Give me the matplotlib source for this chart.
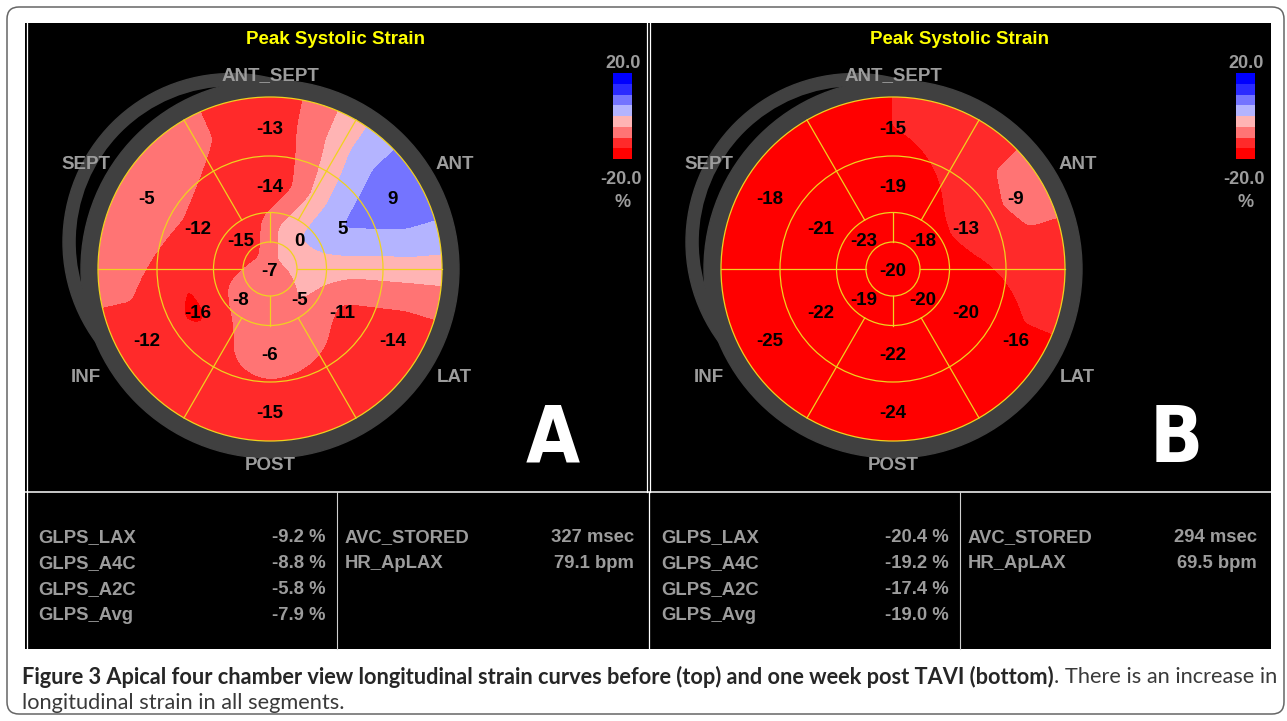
import numpy as np
import matplotlib
matplotlib.use("Agg")
import matplotlib.pyplot as plt
from matplotlib.patches import Circle, FancyBboxPatch
from matplotlib import font_manager as fm

# ---------------- data ----------------
wall_names = ["ANT_SEPT", "ANT", "LAT", "POST", "INF", "SEPT"]
wall_angles = [90, 30, -30, -90, 210, 150]
apical_angles = [45, -45, 225, 135]

# before TAVI (A)
basal_a = [-13, 9, -14, -15, -12, -5]
mid_a = [-14, 5, -11, -6, -16, -12]
apical_a = [0, -5, -8, -15]
apex_a = -7

# one week post TAVI (B)
basal_b = [-15, -9, -16, -24, -25, -18]
mid_b = [-19, -13, -20, -22, -22, -21]
apical_b = [-18, -20, -19, -23]
apex_b = -20

glps_names = ["GLPS_LAX", "GLPS_A4C", "GLPS_A2C", "GLPS_Avg"]
glps_a = [-9.2, -8.8, -5.8, -7.9]
glps_b = [-20.4, -19.2, -17.4, -19.0]
timing_names = ["AVC_STORED", "HR_ApLAX"]
avc = [327, 294]
hr = [79.1, 69.5]

strain_bounds = [-15, -10, -5, 0, 5, 10, 15]
strain_colors = ["#ff0000", "#ff2a2a", "#ff7474", "#ffb4b4",
                 "#b4b4ff", "#7474ff", "#2a2aff", "#0000ff"]
cbar_top, cbar_bottom = "20.0", "-20.0"

title = "Peak Systolic Strain"
panel_letters = ["A", "B"]
cap_bold = ("Figure 3 Apical four chamber view longitudinal strain curves "
            "before (top) and one week post TAVI (bottom)")
cap_reg = ". There is an increase in"
cap_line2 = "longitudinal strain in all segments."

# ---------------- style ----------------
names = {f.name for f in fm.fontManager.ttflist}
LAB = "Liberation Sans" if "Liberation Sans" in names else "DejaVu Sans"
CAP = "Lato" if "Lato" in names else "DejaVu Sans"

# a condensed bold face for the big panel letters, if one is installed
letter_font = None
for f in fm.fontManager.ttflist:
    fn = f.fname.lower()
    if ("narrow" in fn or "condensed" in fn) and f.weight in ("bold", 700) \
            and "oblique" not in fn and "italic" not in fn:
        letter_font = fm.FontProperties(fname=f.fname, size=56)
        break
if letter_font is None:
    letter_font = fm.FontProperties(family=LAB, weight="bold", size=52)

ring_gray = "#404040"
text_gray = "#9c9c9c"
grid_yellow = "#f0d21e"

W, H = 1287, 721
CY = 269
R_OUT, R_MID, R_API, R_APEX = 172, 113, 56.5, 27
R_BASAL_TXT, R_MID_TXT, R_API_TXT = 142, 84, 42
DX = 623
centers = [270, 270 + DX]

fig = plt.figure(figsize=(W / 100, H / 100), dpi=100)
ax = fig.add_axes([0, 0, 1, 1])
ax.set_xlim(0, W)
ax.set_ylim(H, 0)
ax.axis("off")

# frame and black panels
ax.add_patch(FancyBboxPatch((7, 7), 1277, 707, boxstyle="round,pad=0,rounding_size=12",
                            fc="white", ec="#666666", lw=1.1, zorder=0))
ax.add_patch(plt.Rectangle((24.5, 22.7), 1246, 626, fc="black", ec="none", zorder=0.5))
ax.plot([26.8, 26.8], [22.7, 648.5], color="white", lw=0.9, zorder=5)
ax.plot([647.2, 647.2], [22.7, 492], color="white", lw=0.9, zorder=5)
ax.plot([650.3, 650.3], [22.7, 492], color="white", lw=0.9, zorder=5)
ax.plot([24.5, 1270.5], [492.3, 492.3], color="white", lw=1.1, zorder=5)
ax.plot([648.7, 648.7], [492, 648.5], color="white", lw=0.9, zorder=5)
for xl in [337, 337 + DX]:
    ax.plot([xl, xl], [492, 648.5], color="#d0d0d0", lw=0.8, zorder=5)


def ring_profile(vals, angles, theta):
    # periodic interpolation around one ring: mean of linear and monotone cubic
    a = np.mod(angles, 360)
    order = np.argsort(a)
    a = a[order]
    v = np.asarray(vals, float)[order]
    n = len(v)
    step = 360.0 / n
    d = np.roll(v, -1) - v                     # slope after each knot
    dprev = np.roll(d, 1)                      # slope before each knot
    m = np.where(d * dprev > 0, 2 * d * dprev / (d + dprev + 1e-12), 0.0)
    t = np.mod(theta - a[0], 360) / step
    i = np.floor(t).astype(int) % n
    f = t - np.floor(t)
    p0, p1 = v[i], v[(i + 1) % n]
    m0, m1 = m[i], m[(i + 1) % n]
    cub = (p0 * (2 * f ** 3 - 3 * f ** 2 + 1) + m0 * (f ** 3 - 2 * f ** 2 + f)
           + p1 * (-2 * f ** 3 + 3 * f ** 2) + m1 * (f ** 3 - f ** 2))
    lin = p0 + (p1 - p0) * f
    return 0.5 * (cub + lin)


def strain_field(basal, mid, apical, apex, gx, gy):
    th = np.degrees(np.arctan2(gy, gx))
    r = np.hypot(gx, gy)
    vb = ring_profile(basal, wall_angles, th)
    vm = ring_profile(mid, wall_angles, th)
    va = ring_profile(apical, apical_angles, th)
    z = np.where(r <= R_API_TXT, apex + (va - apex) * r / R_API_TXT,
        np.where(r <= R_MID_TXT, va + (vm - va) * (r - R_API_TXT) / (R_MID_TXT - R_API_TXT),
        np.where(r <= R_BASAL_TXT, vm + (vb - vm) * (r - R_MID_TXT) / (R_BASAL_TXT - R_MID_TXT),
                 vb)))
    # soften the kinks of the piecewise interpolation
    k = np.exp(-0.5 * (np.arange(-9, 10) / 3.0) ** 2)
    k /= k.sum()
    zp = np.pad(z, 9, mode="edge")
    zp = np.apply_along_axis(lambda q: np.convolve(q, k, mode="valid"), 0, zp)
    zp = np.apply_along_axis(lambda q: np.convolve(q, k, mode="valid"), 1, zp)
    return zp


def pol(cx, r, ang):
    t = np.radians(ang)
    return cx + r * np.cos(t), CY - r * np.sin(t)


def bullseye(cx, basal, mid, apical, apex, letter):
    # grey LV outline (double wall on the upper left)
    ox, oy = pol(cx, 47, 145)
    ax.add_patch(Circle((ox, oy), 168.5, color=ring_gray, zorder=1))
    ax.add_patch(Circle((ox, oy), 155, color="black", zorder=1.1))
    ax.add_patch(Circle((cx, CY), 189, color=ring_gray, zorder=1.2))

    # interpolated strain field
    g = np.linspace(-178, 178, 320)
    gx, gy = np.meshgrid(g, g)
    Z = strain_field(basal, mid, apical, apex, gx, gy)
    clip = Circle((cx, CY), R_OUT, fc="none", ec="none")
    ax.add_patch(clip)
    cs = ax.contourf(cx + gx, CY - gy, Z, levels=[-1e3] + strain_bounds + [1e3],
                     colors=strain_colors, zorder=2, antialiased=False)
    cs.set_clip_path(clip)

    # segment grid
    for r in [R_OUT, R_MID, R_API, R_APEX]:
        ax.add_patch(Circle((cx, CY), r, fill=False, ec=grid_yellow, lw=0.9, zorder=3))
    for ang in [0, 60, 120, 180, 240, 300]:
        r0 = R_APEX if ang % 180 == 0 else R_API
        x0, y0 = pol(cx, r0, ang)
        x1, y1 = pol(cx, R_OUT, ang)
        ax.plot([x0, x1], [y0, y1], color=grid_yellow, lw=0.9, zorder=3)
    for ang in [90, 270]:
        x0, y0 = pol(cx, R_APEX, ang)
        x1, y1 = pol(cx, R_API, ang)
        ax.plot([x0, x1], [y0, y1], color=grid_yellow, lw=0.9, zorder=3)

    # segment values
    r_pts = [R_BASAL_TXT] * 6 + [R_MID_TXT] * 6 + [R_API_TXT] * 4 + [0]
    a_pts = wall_angles + wall_angles + apical_angles + [0]
    for r, a, v in zip(r_pts, a_pts, basal + mid + apical + [apex]):
        x, y = pol(cx, r, a)
        ax.text(x, y, "%d" % v, ha="center", va="center_baseline", fontsize=13.5,
                fontweight="bold", family=LAB, color="black", zorder=4)

    # wall names
    for name, a in zip(wall_names, wall_angles):
        r = 195 if a in (90, -90) else 213
        x, y = pol(cx, r, a)
        ax.text(x, y, name, ha="center", va="center_baseline", fontsize=13.5,
                fontweight="bold", family=LAB, color=text_gray, zorder=6)

    ax.text(cx + 66, 44, title, ha="center", va="baseline", fontsize=13.5,
            fontweight="bold", family=LAB, color="#ffff00", zorder=6)

    # colour scale
    bx = cx + 343.3
    n = len(strain_colors)
    step = (159 - 73.3) / n
    ax.bar([bx + 9.5] * n, [step] * n, width=19, bottom=159 - step * (np.arange(n) + 1),
           color=strain_colors, edgecolor="none", zorder=4)
    ax.text(bx + 9.5, 61.5, cbar_top, ha="center", va="center_baseline", fontsize=13,
            fontweight="bold", family=LAB, color=text_gray, zorder=6)
    ax.text(bx + 7.5, 177, cbar_bottom, ha="center", va="center_baseline", fontsize=13,
            fontweight="bold", family=LAB, color=text_gray, zorder=6)
    ax.text(bx + 9, 200.5, "%", ha="center", va="center_baseline", fontsize=13,
            fontweight="bold", family=LAB, color=text_gray, zorder=6)

    ax.text(cx + 283, 462, letter, ha="center", va="baseline",
            fontproperties=letter_font, color="white", zorder=6)


bullseye(centers[0], basal_a, mid_a, apical_a, apex_a, panel_letters[0])
bullseye(centers[1], basal_b, mid_b, apical_b, apex_b, panel_letters[1])

# ---------------- tables ----------------
row_y = 536 + 25.7 * np.arange(len(glps_names))
for k, glps in enumerate([glps_a, glps_b]):
    ox = k * DX
    for y, name, v in zip(row_y, glps_names, glps):
        ax.text(38 + ox, y, name, ha="left", va="center_baseline", fontsize=13.3,
                fontweight="bold", family=LAB, color=text_gray, zorder=6)
        ax.text(326 + ox, y, "%.1f %%" % v, ha="right", va="center_baseline", fontsize=13.3,
                fontweight="bold", family=LAB, color=text_gray, zorder=6)
    tvals = ["%d msec" % avc[k], "%.1f bpm" % hr[k]]
    for y, name, v in zip(row_y, timing_names, tvals):
        ax.text(345 + ox, y, name, ha="left", va="center_baseline", fontsize=13.3,
                fontweight="bold", family=LAB, color=text_gray, zorder=6)
        ax.text(634 + ox, y, v, ha="right", va="center_baseline", fontsize=13.3,
                fontweight="bold", family=LAB, color=text_gray, zorder=6)

# ---------------- caption ----------------
rend = fig.canvas.get_renderer()
tb = ax.text(22, 675, cap_bold, ha="left", va="center_baseline", fontsize=12,
             fontweight="bold", family=CAP, color="#262626")
tr = ax.text(0, 675, cap_reg, ha="left", va="center_baseline", fontsize=12,
             family=CAP, color="#3a3a3a")
w = tb.get_window_extent(rend).width + tr.get_window_extent(rend).width
fs = 12 * (1268 - 22) / w
tb.set_fontsize(fs)
tr.set_fontsize(fs)
tr.set_x(tb.get_window_extent(rend).x1)
ax.text(22, 701, cap_line2, ha="left", va="center_baseline", fontsize=fs,
        family=CAP, color="#3a3a3a")

fig.savefig("out.png", dpi=100, facecolor="white")
